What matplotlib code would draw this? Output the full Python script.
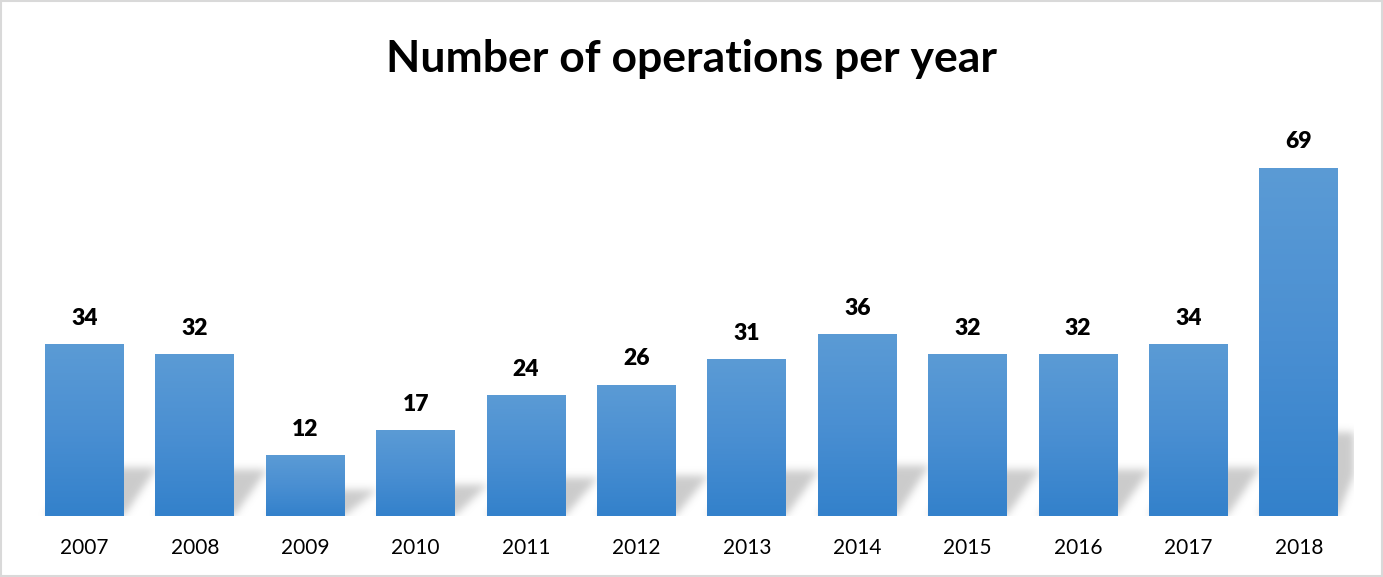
import numpy as np
import matplotlib
matplotlib.use("Agg")
import matplotlib.pyplot as plt
from matplotlib.colors import LinearSegmentedColormap
from matplotlib.patches import Rectangle

years = ["2007", "2008", "2009", "2010", "2011", "2012",
         "2013", "2014", "2015", "2016", "2017", "2018"]
operations = [34, 32, 12, 17, 24, 26, 31, 36, 32, 32, 34, 69]
title = "Number of operations per year"

plt.rcParams['font.family'] = ['Lato', 'DejaVu Sans']

fig = plt.figure(figsize=(13.83, 5.77), dpi=100)
ax = fig.add_axes([0.0212, 0.1057, 0.9578, 0.7])
ymax = 80
ax.set_xlim(-0.5, len(years) - 0.5)
ax.set_ylim(0, ymax)

x = np.arange(len(years))
width = 0.715

# --- soft perspective shadow behind bars (blurred raster) ---
nx, ny = 1400, 400
xs = np.linspace(-0.5, len(years) - 0.5, nx)
ys = np.linspace(0, ymax, ny)
XX, YY = np.meshgrid(xs, ys)
mask = np.zeros_like(XX)
for xi, v in zip(x, operations):
    sh = 2.8 + 0.2 * v
    dx = 0.30
    frac = np.clip(YY / sh, 0, None)
    left = xi - width / 2 + dx * frac
    right = xi + width / 2 + dx * frac
    inside = (YY <= sh) & (XX >= left) & (XX <= right)
    mask = np.maximum(mask, inside.astype(float))

def blur(a, sigma, axis):
    r = int(3 * sigma) + 1
    k = np.exp(-0.5 * (np.arange(-r, r + 1) / sigma) ** 2)
    k /= k.sum()
    return np.apply_along_axis(lambda m: np.convolve(m, k, mode='same'), axis, a)

mask = blur(mask, 4.0, 1)
mask = blur(mask, 4.0, 0)
rgba = np.zeros((ny, nx, 4))
rgba[..., :3] = 0.55
rgba[..., 3] = mask * 0.45
ax.imshow(rgba, extent=(-0.5, len(years) - 0.5, 0, ymax), origin='lower',
          aspect='auto', zorder=1, interpolation='bilinear')

# --- bars with vertical gradient ---
cmap = LinearSegmentedColormap.from_list("g", ["#3381CB", "#4A8FD2", "#5B9BD5"])
bars = ax.bar(x, operations, width=width, color="#4A8FD2", zorder=2, linewidth=0)
grad = np.linspace(0, 1, 256).reshape(-1, 1)
for b in bars:
    x0, y0 = b.get_x(), b.get_y()
    w, h = b.get_width(), b.get_height()
    im = ax.imshow(grad, cmap=cmap, extent=(x0, x0 + w, y0, y0 + h),
                   origin='lower', aspect='auto', zorder=3)
    im.set_clip_path(b)

for xi, v in zip(x, operations):
    ax.annotate(str(v), (xi, v), xytext=(0, 11), textcoords='offset points',
                ha='center', va='bottom', fontsize=16.5, fontweight='heavy',
                color='#000000', zorder=4)

ax.set_xticks(x)
ax.set_xticklabels(years, fontsize=15, color='#000000')
ax.tick_params(axis='x', length=0, pad=16)
ax.set_yticks([])
for s in ax.spines.values():
    s.set_visible(False)

fig.text(0.5, 0.898, title, ha='center', va='center', fontsize=32,
         fontweight='bold', color='#000000')

fig.patches.append(Rectangle((0.0007, 0.001), 0.9986, 0.997, transform=fig.transFigure,
                             fill=False, edgecolor='#D9D9D9', linewidth=1.5))

fig.savefig("out.png", dpi=100)
